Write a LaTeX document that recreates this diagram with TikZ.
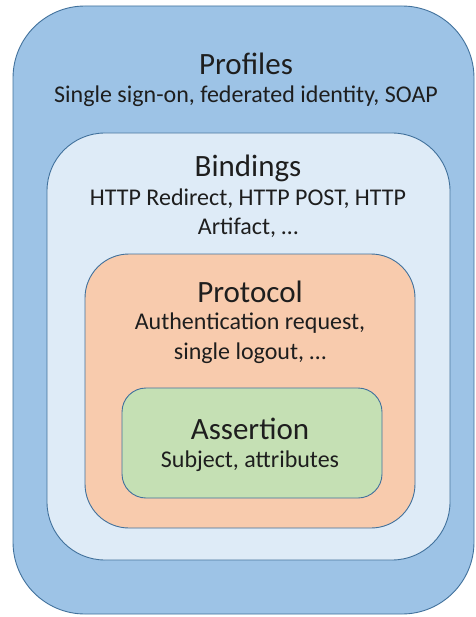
\documentclass[tikz,border=0pt]{standalone}
\usepackage{fontspec}
\setmainfont{Carlito}
\definecolor{ProfilesFill}{HTML}{9DC3E6}
\definecolor{BindingsFill}{HTML}{DEEBF7}
\definecolor{ProtocolFill}{HTML}{F8CBAD}
\definecolor{AssertionFill}{HTML}{C5E0B4}
\definecolor{BoxLine}{HTML}{41719C}
\definecolor{TextGray}{HTML}{1E1E1E}
\tikzset{
  layer/.style={draw=BoxLine, line width=0.9pt},
  title/.style={text=TextGray, inner sep=0pt, font=\fontsize{31}{36}\selectfont},
  sub/.style={text=TextGray, inner sep=0pt, align=center, font=\fontsize{24}{29.5}\selectfont}
}
\begin{document}
\begin{tikzpicture}[x=1pt,y=1pt]
            \useasboundingbox (0,0) rectangle (475,-617);
            %% Layers, outside in
            \draw[layer, fill=ProfilesFill, rounded corners=72pt] (13,-6) rectangle (474,-614);
            \draw[layer, fill=BindingsFill, rounded corners=58pt] (47,-133) rectangle (450,-560);
            \draw[layer, fill=ProtocolFill, rounded corners=44pt] (85,-254) rectangle (415,-528);
            \draw[layer, fill=AssertionFill, rounded corners=24pt] (122,-388) rectangle (382,-498);
            %% Labels
            \node[title] (profiles) at (246,-64) {Profiles};
            \node[sub] (profilesuse) at (246,-96) {Single sign-on, federated identity, SOAP};
            \node[title] (bindings) at (248,-168) {Bindings};
            \node[sub] (bindingsuse) at (248,-213) {HTTP Redirect, HTTP POST, HTTP\\Artifact, \dots};
            \node[title] (protocol) at (250,-292) {Protocol};
            \node[sub] (protocoluse) at (250,-338) {Authentication request,\\single logout, \dots};
            \node[title] (assertion) at (250,-429) {Assertion};
            \node[sub] (assertionuse) at (250,-461) {Subject, attributes};
\end{tikzpicture}
\end{document}
